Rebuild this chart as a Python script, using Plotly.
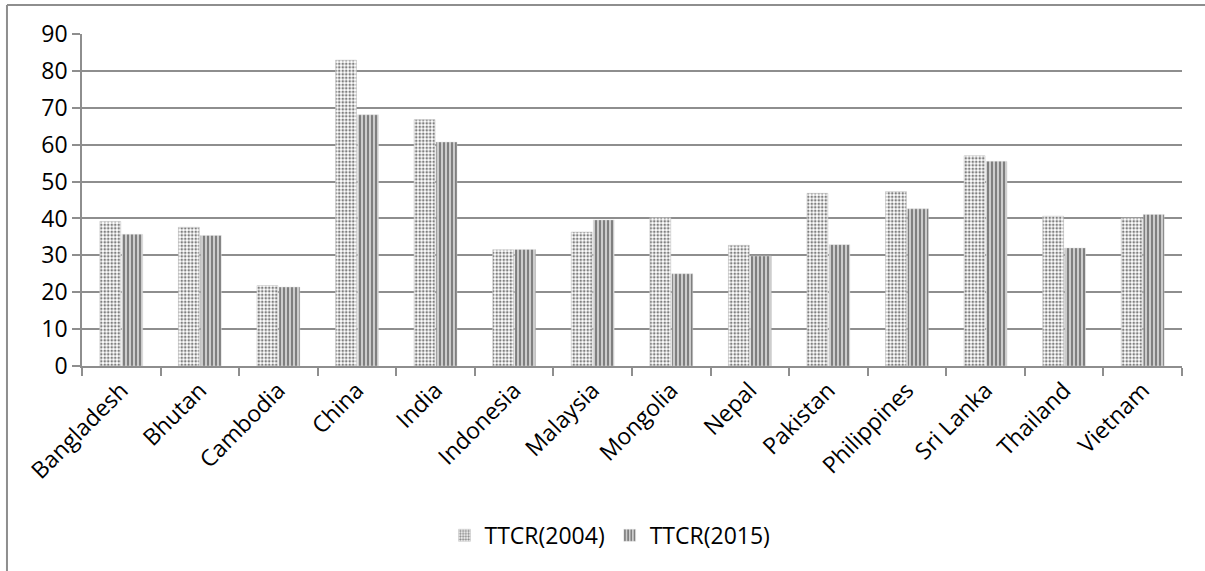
import plotly.graph_objects as go

countries = ["Bangladesh", "Bhutan", "Cambodia", "China", "India", "Indonesia",
             "Malaysia", "Mongolia", "Nepal", "Pakistan", "Philippines",
             "Sri Lanka", "Thailand", "Vietnam"]
ttcr_2004 = [39.2, 37.6, 21.8, 82.9, 66.8, 31.5, 36.3, 40.2, 32.7, 46.8, 47.3, 57.0, 40.6, 40.1]
ttcr_2015 = [35.7, 35.4, 21.4, 68.1, 60.7, 31.6, 39.6, 25.0, 29.8, 32.9, 42.6, 55.5, 32.0, 41.1]
y_ticks = [0, 10, 20, 30, 40, 50, 60, 70, 80, 90]

GRID = "#8e8e8e"
FONT = "Open Sans"
FSIZE = 23

fig = go.Figure()
fig.add_trace(go.Bar(
    name="TTCR(2004)", x=countries, y=ttcr_2004,
    marker=dict(color="white",
                line=dict(width=0.6, color="#c8c8c8"),
                pattern=dict(shape=".", fgcolor="black", bgcolor="white",
                             size=3.5, solidity=0.45)),
))
fig.add_trace(go.Bar(
    name="TTCR(2015)", x=countries, y=ttcr_2015,
    marker=dict(color="white",
                line=dict(width=0.4, color="#dddddd"),
                pattern=dict(shape="|", fgcolor="black", bgcolor="white",
                             size=4, solidity=0.7)),
))

fig.update_layout(
    width=1205, height=571,
    margin=dict(l=82, r=23, t=34, b=205),
    paper_bgcolor="white", plot_bgcolor="white",
    barmode="group", bargap=0.44, bargroupgap=0.05,
    font=dict(family=FONT, size=FSIZE, color="black"),
    showlegend=True,
    legend=dict(orientation="h", x=0.48, xanchor="center", y=-0.51, yanchor="middle",
                font=dict(family=FONT, size=FSIZE), itemwidth=30,
                traceorder="normal"),
    shapes=[
        # chart frame (top and left edges)
        dict(type="line", xref="paper", yref="paper",
             x0=-0.0682, x1=1.03, y0=1.0873, y1=1.0873,
             line=dict(color=GRID, width=2)),
        dict(type="line", xref="paper", yref="paper",
             x0=-0.0682, x1=-0.0682, y0=1.0873, y1=-0.64,
             line=dict(color=GRID, width=2)),
    ],
)

fig.update_xaxes(
    type="category", tickangle=-45, tickson="boundaries",
    ticks="outside", ticklen=8, tickcolor=GRID, tickwidth=1.5,
    showline=True, linecolor=GRID, linewidth=1.5,
    showgrid=False, tickfont=dict(family=FONT, size=FSIZE),
)
fig.update_yaxes(
    range=[0, 90], tickvals=y_ticks,
    ticks="outside", ticklen=8, tickcolor=GRID, tickwidth=1.5,
    showline=True, linecolor=GRID, linewidth=1.5,
    showgrid=True, gridcolor=GRID, gridwidth=1.5,
    zeroline=False, tickfont=dict(family=FONT, size=FSIZE),
)

fig.write_html("out.html")
